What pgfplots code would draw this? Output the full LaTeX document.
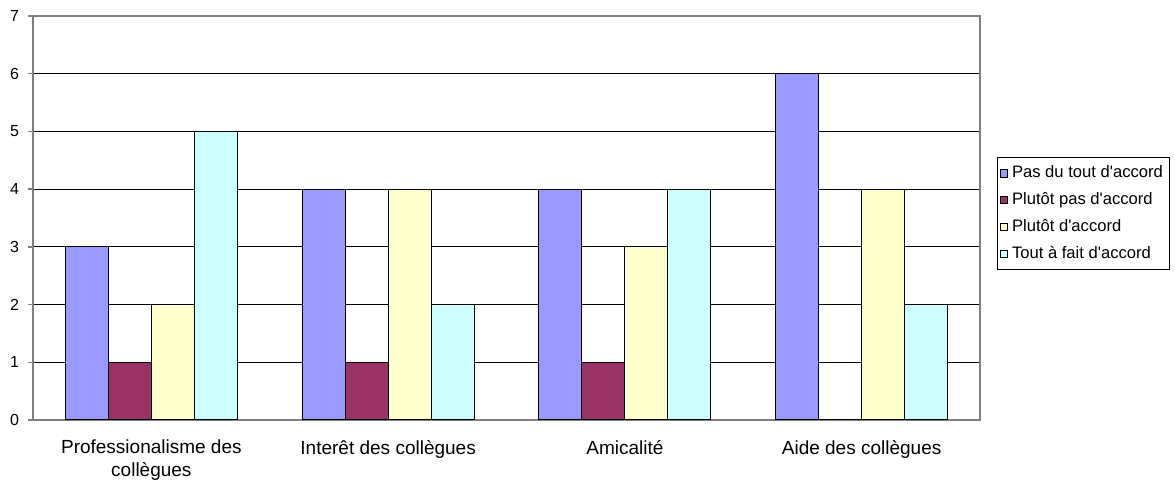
\documentclass[border=0pt]{standalone}
\usepackage{fontspec}
\setmainfont{Liberation Sans}
\usepackage{pgfplots}
\pgfplotsset{compat=1.18}

\definecolor{cBlue}{HTML}{9999FF}
\definecolor{cPlum}{HTML}{993366}
\definecolor{cYell}{HTML}{FFFFCC}
\definecolor{cCyan}{HTML}{CCFFFF}
\definecolor{axgray}{HTML}{808080}

\begin{document}
\begin{tikzpicture}
% page size: 1175 x 483 px at 0.5bp per px, plot origin at (33,420) px
\path[use as bounding box] (-16.5bp,-31.5bp) rectangle (571bp,210bp);
\begin{axis}[
  at={(0,0)}, anchor=south west,
  scale only axis,
  width=473.5bp, height=202bp,
  ybar=0pt, bar width=21.5bp,
  xmin=-0.5, xmax=3.5,
  ymin=0, ymax=7,
  ytick={0,...,7},
  xtick={0,1,2,3},
  xticklabels={{Professionalisme des\\collègues},{Interêt des collègues},{Amicalité},{Aide des collègues}},
  xticklabel style={align=center, font=\fontsize{9.5bp}{11.5bp}\selectfont, yshift=-4bp},
  yticklabel style={font=\fontsize{8bp}{9bp}\selectfont, xshift=-1bp},
  /pgf/number format/assume math mode=true,
  major x tick style={draw=none},
  extra x ticks={-0.5,0.5,1.5,2.5,3.5},
  extra x tick labels={},
  extra x tick style={grid=none, major tick length=2.5bp, tick style={axgray, line width=0.7bp}},
  tick align=outside,
  major tick length=2.5bp,
  ytick style={axgray, line width=0.7bp},
  xtick pos=bottom, ytick pos=left,
  ymajorgrids,
  major grid style={black, line width=0.5bp},
  axis line style={axgray, line width=0.8bp},
  every axis plot/.append style={draw=black, line width=0.55bp},
  legend style={at={(1.018,0.651)}, anchor=north west, draw=black, line width=0.5bp,
    font=\fontsize{8.3bp}{9bp}\selectfont, row sep=1.9bp, inner xsep=1.2bp, inner ysep=2.2bp,
    cells={anchor=west}},
  legend image code/.code={\draw[#1, draw=black, line width=0.45bp] (0bp,-1.8bp) rectangle (3.6bp,1.8bp);},
]
\addplot[fill=cBlue] coordinates {(0,3) (1,4) (2,4) (3,6)};
\addplot[fill=cPlum] coordinates {(0,1) (1,1) (2,1) (3,0)};
\addplot[fill=cYell] coordinates {(0,2) (1,4) (2,3) (3,4)};
\addplot[fill=cCyan] coordinates {(0,5) (1,2) (2,4) (3,2)};
\legend{Pas du tout d\textquotesingle accord, Plutôt pas d\textquotesingle accord, Plutôt d\textquotesingle accord, Tout à fait d\textquotesingle accord}
\end{axis}
\end{tikzpicture}
\end{document}
